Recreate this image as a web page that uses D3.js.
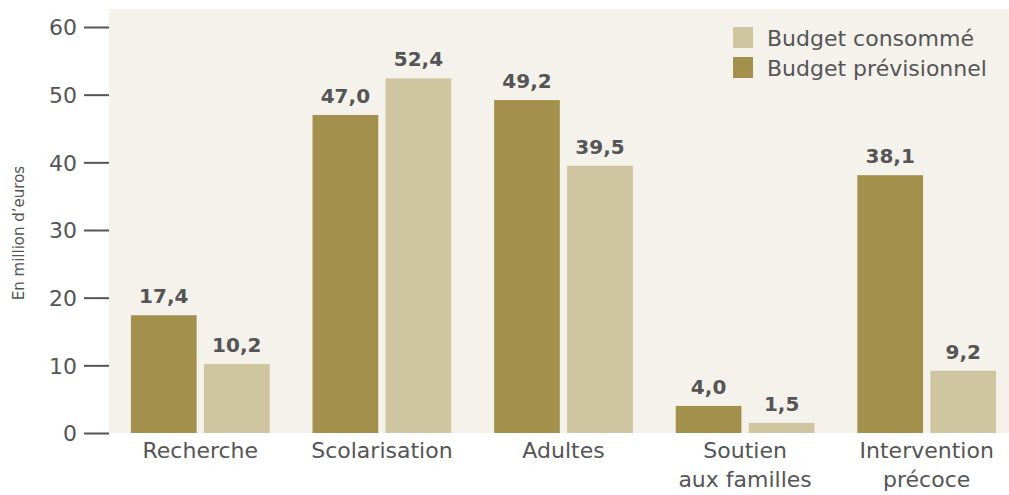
<!DOCTYPE html>
<html>
<head>
<meta charset="utf-8">
<script src="https://cdn.jsdelivr.net/npm/d3@7"></script>
<style>
  body { margin: 0; background: #fff; }
  svg text { font-family: "DejaVu Sans", sans-serif; fill: #555; }
</style>
</head>
<body>
<div id="chart"></div>
<script>
// categories and values
var categories = [["Recherche"], ["Scolarisation"], ["Adultes"], ["Soutien", "aux familles"], ["Intervention", "précoce"]];
var previsionnel = [17.4, 47.0, 49.2, 4.0, 38.1];
var consomme = [10.2, 52.4, 39.5, 1.5, 9.2];
var yTicks = [0, 10, 20, 30, 40, 50, 60];
var seriesNames = ["Budget prévisionnel", "Budget consommé"];
var seriesColors = ["#a3904c", "#cfc5a1"];

var svgWidth = 1009;
var svgHeight = 495;
var margin = { top: 9, right: 0, bottom: 62, left: 109 };

var svg = d3.select("#chart")
    .append("svg")
    .attr("width", svgWidth)
    .attr("height", svgHeight);

// plot background
svg.append("rect")
    .attr("x", margin.left)
    .attr("y", margin.top)
    .attr("width", svgWidth - margin.left - margin.right)
    .attr("height", 433 - margin.top)
    .attr("fill", "#f5f2ec");

var yScale = d3.scaleLinear()
    .domain([0, 60])
    .range([433, 27]);

var keys = categories.map(function(c) { return c.join(" "); });

var x0 = d3.scaleBand()
    .domain(keys)
    .range([109.5, 1017.5])
    .paddingInner(0.236)
    .paddingOuter(0.118);

var x1 = d3.scaleBand()
    .domain([0, 1])
    .range([0, x0.bandwidth()])
    .paddingInner(0.1);

// y axis
var yAxis = d3.axisLeft(yScale)
    .tickValues(yTicks)
    .tickSize(25)
    .tickPadding(7);

var yG = svg.append("g")
    .attr("transform", "translate(109,0)")
    .call(yAxis);
yG.select(".domain").remove();
yG.selectAll(".tick line").attr("stroke", "#555").attr("stroke-width", 2);
yG.selectAll(".tick text")
    .style("font-size", "22px")
    .attr("dy", "0.36em");

svg.append("text")
    .attr("transform", "translate(24,233) rotate(-90)")
    .attr("text-anchor", "middle")
    .style("font-size", "15px")
    .text("En million d\u2019euros");

// bars
var data = keys.map(function(k, i) {
    return { key: k, values: [previsionnel[i], consomme[i]] };
});

var groups = svg.selectAll(".group")
    .data(data)
    .enter().append("g")
    .attr("transform", function(d) { return "translate(" + x0(d.key) + ",0)"; });

groups.selectAll("rect")
    .data(function(d) { return d.values; })
    .enter().append("rect")
    .attr("x", function(d, i) { return x1(i); })
    .attr("y", function(d) { return yScale(d); })
    .attr("width", x1.bandwidth())
    .attr("height", function(d) { return yScale(0) - yScale(d); })
    .attr("fill", function(d, i) { return seriesColors[i]; });

groups.selectAll(".val")
    .data(function(d) { return d.values; })
    .enter().append("text")
    .attr("x", function(d, i) { return x1(i) + x1.bandwidth() / 2; })
    .attr("y", function(d) { return yScale(d) - 12; })
    .attr("text-anchor", "middle")
    .style("font-size", "20px")
    .style("font-weight", "bold")
    .text(function(d) { return d.toFixed(1).replace(".", ","); });

// category labels
categories.forEach(function(lines, i) {
    var t = svg.append("text")
        .attr("text-anchor", "middle")
        .style("font-size", "22px");
    lines.forEach(function(l, j) {
        t.append("tspan")
            .attr("x", x0(keys[i]) + x0.bandwidth() / 2)
            .attr("y", 458 + j * 29)
            .text(l);
    });
});

// legend
var legendOrder = [1, 0];
legendOrder.forEach(function(s, j) {
    svg.append("rect")
        .attr("x", 733)
        .attr("y", 27 + j * 30)
        .attr("width", 20)
        .attr("height", 21)
        .attr("fill", seriesColors[s]);
    svg.append("text")
        .attr("x", 767)
        .attr("y", 46 + j * 30)
        .style("font-size", "22px")
        .text(seriesNames[s]);
});
</script>
</body>
</html>
